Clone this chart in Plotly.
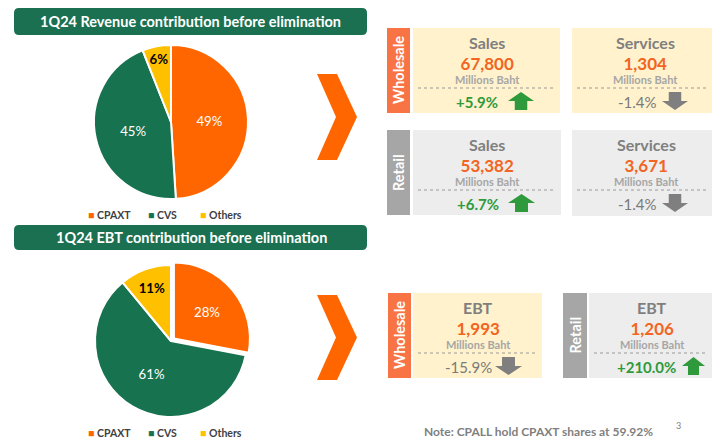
import plotly.graph_objects as go

# ---------------- data ----------------
segments = ["CPAXT", "CVS", "Others"]
revenue_share = [49, 45, 6]
ebt_share = [28, 61, 11]
revenue_title = "1Q24 Revenue contribution before elimination"
ebt_title = "1Q24 EBT contribution before elimination"

kpi_groups = ["Wholesale", "Wholesale", "Retail", "Retail", "Wholesale", "Retail"]
kpi_titles = ["Sales", "Services", "Sales", "Services", "EBT", "EBT"]
kpi_values = ["67,800", "1,304", "53,382", "3,671", "1,993", "1,206"]
kpi_changes = [5.9, -1.4, 6.7, -1.4, -15.9, 210.0]
kpi_unit = "Millions Baht"
note_text = "Note: CPALL hold CPAXT shares at 59.92%"
page_number = "3"

# ---------------- style ----------------
W, H = 712, 440
FONT = "Lato"
ORANGE = "#ff6600"
GREEN = "#177250"
YELLOW = "#ffc000"
BAR_GREEN = "#1a7050"
seg_colors = [ORANGE, GREEN, YELLOW]


def X(p):
    return p / W


def Y(p):
    return 1 - p / H


shapes = []
annotations = []


def rect(x0, y0, x1, y1, color):
    shapes.append(dict(type="rect", xref="paper", yref="paper",
                       x0=X(x0), x1=X(x1), y0=Y(y1), y1=Y(y0),
                       fillcolor=color, line=dict(width=0), layer="below"))


def rounded(x0, y0, x1, y1, r, color):
    rx, ry = r / W, r / H
    a0, a1, b0, b1 = X(x0), X(x1), Y(y1), Y(y0)
    p = (f"M {a0+rx},{b0} L {a1-rx},{b0} Q {a1},{b0} {a1},{b0+ry} "
         f"L {a1},{b1-ry} Q {a1},{b1} {a1-rx},{b1} L {a0+rx},{b1} "
         f"Q {a0},{b1} {a0},{b1-ry} L {a0},{b0+ry} Q {a0},{b0} {a0+rx},{b0} Z")
    shapes.append(dict(type="path", xref="paper", yref="paper", path=p,
                       fillcolor=color, line=dict(width=0), layer="below"))


def poly(pts, color):
    p = "M " + " L ".join(f"{X(a)},{Y(b)}" for a, b in pts) + " Z"
    shapes.append(dict(type="path", xref="paper", yref="paper", path=p,
                       fillcolor=color, line=dict(width=0)))


def text(x, y, s, size, color, bold=True, angle=0, xanchor="center", yanchor="middle"):
    annotations.append(dict(x=X(x), y=Y(y), xref="paper", yref="paper",
                            text=f"<b>{s}</b>" if bold else s, showarrow=False,
                            xanchor=xanchor, yanchor=yanchor, textangle=angle,
                            font=dict(family=FONT, size=size, color=color)))


def arrow(a0, a1, t, b, up, color):
    w = a1 - a0
    m = (a0 + a1) / 2
    s = w * 0.24
    hh = (b - t) * 0.5
    if up:
        pts = [(m, t), (a1, t + hh), (m + s, t + hh), (m + s, b),
               (m - s, b), (m - s, t + hh), (a0, t + hh)]
    else:
        pts = [(m, b), (a1, b - hh), (m + s, b - hh), (m + s, t),
               (m - s, t), (m - s, b - hh), (a0, b - hh)]
    poly(pts, color)


# title bars
rounded(14, 8, 367, 35, 5, BAR_GREEN)
text(190, 21.5, revenue_title, 14.5, "white")
rounded(14, 225, 367, 250, 5, BAR_GREEN)
text(191, 237.5, ebt_title, 14.5, "white")

# chevrons
for top, bot in [(74, 160), (295, 380)]:
    mid = (top + bot) / 2
    poly([(317, top), (337, top), (357, mid), (337, bot), (317, bot), (336, mid)], ORANGE)


# legends under pies
def legend(y, yanchor="middle"):
    xs = [86, 146, 198]
    for xx, lab, col in zip(xs, segments, seg_colors):
        annotations.append(dict(x=X(xx), y=Y(y), xref="paper", yref="paper",
                                showarrow=False, xanchor="left", yanchor=yanchor,
                                text=f"<span style='color:{col}'>■</span> <b>{lab}</b>",
                                font=dict(family=FONT, size=10.5, color="#404040")))


legend(215)
legend(441, "bottom")

# side labels
GROUP_COL = {"Wholesale": "#f97445", "Retail": "#a6a6a6"}
BOX_COL = {"Wholesale": "#fff2cc", "Retail": "#ededed"}
side_labels = [("Wholesale", 387, 410, 28, 113), ("Retail", 387, 410, 130, 215),
               ("Wholesale", 388, 411, 293, 378), ("Retail", 563, 587, 293, 378)]
for g, x0, x1, y0, y1 in side_labels:
    rect(x0, y0, x1, y1, GROUP_COL[g])
    text((x0 + x1) / 2, (y0 + y1) / 2, g, 14.5, "white", angle=-90)

# KPI boxes: (x0, x1, y0, y1, centre x, change-text x, arrow x0, arrow x1)
box_geo = [(413, 560, 28, 113, 487, 477, 508, 534),
           (572, 712, 28, 113, 645, 637, 662, 688),
           (413, 561, 130, 215, 487, 478, 508, 535),
           (572, 712, 130, 216, 646, 637, 662, 688),
           (413, 542, 293, 378, 478, 468, 495, 522),
           (589, 712, 293, 378, 652, 646, 682, 705)]
for i, (x0, x1, y0, y1, cx, chx, ax0, ax1) in enumerate(box_geo):
    g = kpi_groups[i]
    rect(x0, y0, x1, y1, BOX_COL[g])
    text(cx, y0 + 14, kpi_titles[i], 16, "#7f7f7f")
    # value + unit as one two-line text (tight line spacing)
    annotations.append(dict(
        x=X(cx), y=Y(y0 + 41.5), xref="paper", yref="paper", showarrow=False,
        xanchor="center", yanchor="middle",
        text=(f"<span style='font-size:17px;color:#f26522'><b>{kpi_values[i]}</b></span>"
              f"<br><b>{kpi_unit}</b>"),
        font=dict(family=FONT, size=11, color="#a6a6a6")))
    shapes.append(dict(type="line", xref="paper", yref="paper",
                       x0=X(x0 + 5), x1=X(x1 - 5), y0=Y(y0 + 60), y1=Y(y0 + 60),
                       line=dict(color="#9a9a9a", width=1, dash="dot")))
    c = kpi_changes[i]
    up = c > 0
    col = "#2e9a3c" if up else "#7a7a7a"
    text(chx, y0 + 74, f"{c:+.1f}%", 15, col, bold=up)
    arrow(ax0, ax1, y0 + 64, y0 + 82, up, "#2e9a3c" if up else "#7f7f7f")

# note and page number
text(538, 441, note_text, 12, "#7f7f7f", yanchor="bottom")
text(678, 425, page_number, 9, "#7f7f7f", bold=False)

# ---------------- pies ----------------
fig = go.Figure()


def pie(vals, cx, cy, r, pull):
    pm = max(pull)
    R = r * (1 + pm)
    txt = [f"{v}%" for v in vals]
    txt[-1] = f"<b>{txt[-1]}</b>"
    fig.add_trace(go.Pie(
        labels=segments, values=vals, sort=False, direction="clockwise", rotation=0,
        marker=dict(colors=seg_colors, line=dict(color="white", width=2)),
        text=txt, textinfo="text", textposition="inside",
        insidetextorientation="horizontal", pull=pull,
        textfont=dict(family=FONT, size=16, color=["white", "white", "black"]),
        domain=dict(x=[X(cx - R), X(cx + R)], y=[Y(cy + R), Y(cy - R)]),
        hoverinfo="label+percent", showlegend=False))


pie(revenue_share, 171, 122, 77, [0, 0, 0])
pie(ebt_share, 171, 341, 76, [0.05, 0, 0])

fig.update_layout(width=W, height=H, margin=dict(l=0, r=0, t=0, b=0),
                  paper_bgcolor="white", plot_bgcolor="white",
                  shapes=shapes, annotations=annotations,
                  uniformtext=dict(minsize=10, mode="show"),
                  font=dict(family=FONT))
fig.write_html("out.html", config={"displayModeBar": False},
               post_script="document.body.style.margin='0';document.body.style.overflow='hidden';")
